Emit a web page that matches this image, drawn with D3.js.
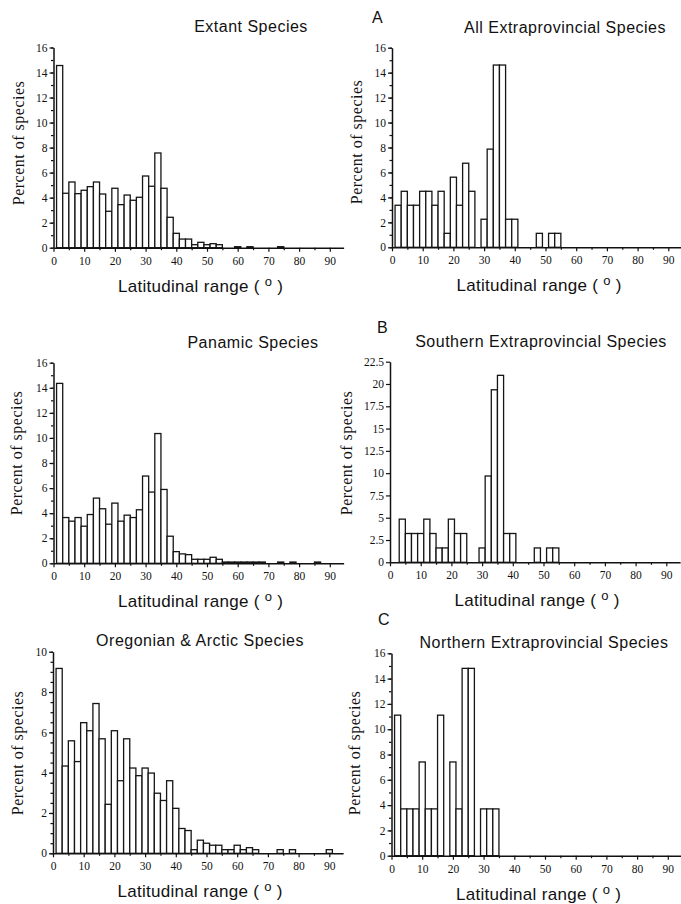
<!DOCTYPE html>
<meta charset="utf-8">
<style>
body { margin: 0; background: #fff; }
svg { display: block; }
.tick text { font-family: "Liberation Serif", "Times New Roman", serif; font-size: 11.5px; fill: #111; }
.domain { stroke: #111; stroke-width: 1.5px; }
.tick line { stroke: #111; stroke-width: 1.2px; }
.bars rect { fill: #fff; stroke: #151515; stroke-width: 1.3px; }
.title, .xlabel, .letter { font-family: "Liberation Sans", Arial, sans-serif; fill: #111; }
.title { font-size: 16px; letter-spacing: 0.5px; }
.letter { font-size: 16px; }
.xlabel { font-size: 17px; letter-spacing: 0.3px; }
.ylabel { font-family: "Liberation Serif", "Times New Roman", serif; font-size: 16px; letter-spacing: 0.5px; fill: #111; }
</style>
<svg width="681" height="904"></svg>
<script src="https://d3js.org/d3.v7.min.js"></script>
<script>

// lower edge of each 2-degree latitudinal range class
var binLow = [1, 3, 5, 7, 9, 11, 13, 15, 17, 19, 21, 23, 25, 27, 29, 31, 33, 35, 37, 39,
              41, 43, 45, 47, 49, 51, 53, 55, 57, 59, 61, 63, 65, 67, 69, 71, 73, 75, 77, 79,
              81, 83, 85, 87, 89, 91, 93];
var binWidth = 2;

// percent of species per class
var extant = [14.56, 4.35, 5.25, 4.32, 4.59, 4.88, 5.25, 4.29, 2.91, 4.75, 3.44, 4.21, 3.79, 4.03,
              5.73, 4.91, 7.57, 4.75, 2.43, 1.15, 0.69, 0.69, 0.24, 0.43, 0.24, 0.32, 0.24, 0, 0,
              0.08, 0, 0.08, 0, 0, 0, 0, 0.08];
var allExtra = [3.37, 4.49, 3.37, 3.37, 4.49, 4.49, 3.37, 4.49, 1.12, 5.62, 3.37, 6.74, 4.49, 0,
                2.25, 7.87, 14.61, 14.61, 2.25, 2.25, 0, 0, 0, 1.12, 0, 1.12, 1.12];
var panamic = [14.35, 3.65, 3.36, 3.65, 2.96, 3.89, 5.2, 4.35, 3.12, 4.8, 3.36, 3.84, 3.65, 4.27,
               6.96, 5.68, 10.35, 5.89, 2.16, 0.93, 0.75, 0.69, 0.32, 0.32, 0.32, 0.48, 0.32,
               0.1, 0.1, 0.1, 0.1, 0.1, 0.1, 0.1, 0, 0, 0.1, 0, 0.1, 0, 0, 0, 0.1];
var southern = [0, 4.84, 3.23, 3.23, 3.23, 4.84, 3.23, 1.61, 1.61, 4.84, 3.23, 3.23, 0, 0,
                1.61, 9.68, 19.35, 20.97, 3.23, 3.23, 0, 0, 0, 1.61, 0, 1.61, 1.61];
var oregonian = [9.17, 4.33, 5.58, 4.55, 6.48, 6.08, 7.43, 5.68, 2.43, 6.08, 3.6, 5.68, 4.23, 3.85,
                 4.23, 3.98, 2.98, 2.62, 3.6, 2.23, 1.23, 1.13, 0.18, 0.65, 0.5, 0.4, 0.4, 0.18,
                 0.18, 0.4, 0.18, 0.28, 0.18, 0, 0, 0, 0.18, 0, 0.18, 0, 0, 0, 0, 0, 0.18];
var northern = [11.11, 3.70, 3.70, 3.70, 7.41, 3.70, 3.70, 11.11, 0, 7.41, 3.70, 14.81, 14.81, 0,
                3.70, 3.70, 3.70];

var titles = ["Extant Species", "All Extraprovincial Species", "Panamic Species",
              "Southern Extraprovincial Species", "Oregonian & Arctic Species",
              "Northern Extraprovincial Species"];
var letters = ["", "A", "", "B", "", "C"];
var xTickLabels = [0, 10, 20, 30, 40, 50, 60, 70, 80, 90];

var svg = d3.select("svg");

// panel placement
var panels = [
  {data: extant,    left: 53.5, top: 47.5,  bottom: 247.7, yMax: 16,   yStep: 2,   yMinor: 1,   tx: 251, ty: 32,  lx: 0,   ly: 0,   yl: 24,  ym: 143},
  {data: allExtra,  left: 392,  top: 47.7,  bottom: 247.3, yMax: 16,   yStep: 2,   yMinor: 1,   tx: 565, ty: 33,  lx: 372, ly: 23,  yl: 362, ym: 142},
  {data: panamic,   left: 53.5, top: 362.7, bottom: 563.3, yMax: 16,   yStep: 2,   yMinor: 1,   tx: 253, ty: 348, lx: 0,   ly: 0,   yl: 22,  ym: 453},
  {data: southern,  left: 390,  top: 361.7, bottom: 562.3, yMax: 22.5, yStep: 2.5, yMinor: 0,   tx: 541, ty: 347, lx: 377, ly: 333, yl: 352, ym: 453},
  {data: oregonian, left: 53,   top: 651.7, bottom: 853.3, yMax: 10,   yStep: 2,   yMinor: 0.5, tx: 200, ty: 646, lx: 0,   ly: 0,   yl: 23,  ym: 753},
  {data: northern,  left: 391.5, top: 653.3, bottom: 855.7, yMax: 16,  yStep: 2,   yMinor: 1,   tx: 544, ty: 648, lx: 378, ly: 625, yl: 360, ym: 753}
];

var pxPerDeg = 3.07;
var xMax = 94.5;

panels.forEach(function(p, idx) {
  var g = svg.append("g");

  var x = d3.scaleLinear().domain([0, xMax]).range([p.left, p.left + xMax * pxPerDeg]);
  var y = d3.scaleLinear().domain([0, p.yMax]).range([p.bottom, p.top]);

  // bars
  var bars = p.data.map(function(v, i) { return {lo: binLow[i], v: v}; })
    .filter(function(d) { return d.v > 0; });

  g.append("g").attr("class", "bars")
    .selectAll("rect")
    .data(bars)
    .enter().append("rect")
    .attr("x", function(d) { return x(d.lo); })
    .attr("width", function(d) { return x(d.lo + binWidth) - x(d.lo); })
    .attr("y", function(d) { return y(d.v); })
    .attr("height", function(d) { return y(0) - y(d.v); });

  // y axis: minor then major ticks
  if (p.yMinor) {
    g.append("g")
      .attr("transform", "translate(" + p.left + ",0)")
      .call(d3.axisLeft(y).tickValues(d3.range(0, p.yMax + 0.001, p.yMinor))
        .tickSize(2.5).tickFormat(""))
      .select(".domain").remove();
  }
  var yMajor = d3.range(0, p.yMax + 0.001, p.yStep);
  g.append("g")
    .attr("transform", "translate(" + p.left + ",0)")
    .call(d3.axisLeft(y).tickValues(yMajor).tickSize(4).tickSizeOuter(0).tickPadding(2)
      .tickFormat(d3.format("~g")));

  // x axis: ticks every 5, labels every 10
  g.append("g")
    .attr("transform", "translate(0," + p.bottom + ")")
    .call(d3.axisBottom(x).tickValues(d3.range(5, xMax, 10)).tickSize(2.5).tickFormat(""))
    .select(".domain").remove();
  g.append("g")
    .attr("transform", "translate(0," + p.bottom + ")")
    .call(d3.axisBottom(x).tickValues(xTickLabels).tickSize(4).tickSizeOuter(0).tickPadding(5));

  // titles
  g.append("text").attr("class", "title")
    .attr("x", p.tx).attr("y", p.ty)
    .attr("text-anchor", "middle")
    .text(titles[idx]);

  if (letters[idx]) {
    g.append("text").attr("class", "letter")
      .attr("x", p.lx).attr("y", p.ly)
      .text(letters[idx]);
  }

  g.append("text").attr("class", "ylabel")
    .attr("transform", "translate(" + p.yl + "," + p.ym + ") rotate(-90)")
    .attr("text-anchor", "middle")
    .text("Percent of species");

  var xl = g.append("text").attr("class", "xlabel")
    .attr("x", (x.range()[0] + x.range()[1]) / 2 + 2)
    .attr("y", p.bottom + 44)
    .attr("text-anchor", "middle");
  xl.append("tspan").text("Latitudinal range ( ");
  xl.append("tspan").attr("dy", -6).attr("font-size", 13).text("o");
  xl.append("tspan").attr("dy", 6).text(" )");
});

</script>
